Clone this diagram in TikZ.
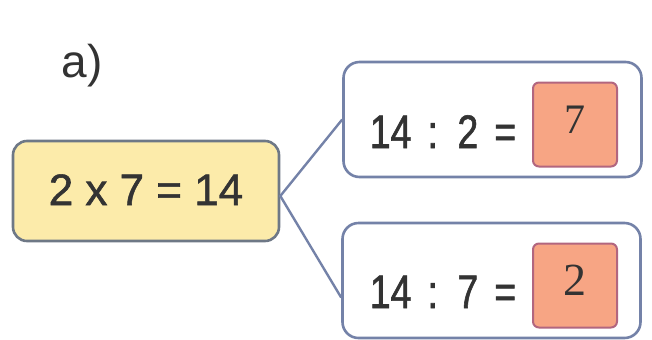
\documentclass[tikz,border=0pt]{standalone}
\usepackage{fontspec}
\setmainfont{Liberation Sans}
\newfontfamily\numfont{Liberation Serif}
\newfontfamily\eqfont{Liberation Sans}[FakeBold=1.2]
\newfontfamily\taskfont{Liberation Sans}[FakeBold=1.2, FakeStretch=0.8]
\usepackage{tikz}
\usetikzlibrary{positioning,calc}
\definecolor{boxline}{HTML}{7482A8}
\definecolor{eqfill}{HTML}{FCEBAA}
\definecolor{eqline}{HTML}{6E7886}
\definecolor{ansfill}{HTML}{F7A584}
\definecolor{ansline}{HTML}{B2667F}
\definecolor{ink}{HTML}{333333}

\begin{document}
\begin{tikzpicture}[x=1bp, y=-1bp,
  given/.style={draw=eqline, fill=eqfill, line width=2.6bp, rounded corners=14bp,
    minimum width=266bp, minimum height=100bp},
  task/.style={draw=boxline, fill=white, line width=2.6bp, rounded corners=16bp,
    minimum width=298bp, minimum height=115bp},
  answer/.style={draw=ansline, fill=ansfill, line width=2bp, rounded corners=6bp,
    minimum width=84bp, minimum height=84bp},
  link/.style={draw=boxline, line width=2.4bp},
  every node/.style={text=ink}
]
\useasboundingbox (0,0) rectangle (652,339);

\node[anchor=base west, font=\fontsize{46bp}{50bp}\selectfont] (lbl) at (58,77) {a)};

\node[given] (eq) at (146,191) {};
\node[anchor=base, font=\eqfont\fontsize{44bp}{50bp}\selectfont] (eqtxt) at (146,205) {2 x 7 = 14};

\node[task] (top) at (492.5,119.5) {};
\node[task] (bot) at (491.5,280.5) {};

\node[answer] (a1) at (575,124.5) {};
\node[answer] (a2) at (575,285.5) {};

\node[anchor=base, font=\taskfont\fontsize{47bp}{50bp}\selectfont] (q1) at (443,148)
  {\spaceskip=.34em 14 : 2 =};
\node[anchor=base, font=\taskfont\fontsize{47bp}{50bp}\selectfont] (q2) at (443,308)
  {\spaceskip=.34em 14 : 7 =};

\node[anchor=base, font=\numfont\fontsize{42bp}{46bp}\selectfont] (n1) at (575,133) {7};
\node[anchor=base, font=\numfont\fontsize{46bp}{50bp}\selectfont] (n2) at (575,295) {2};

\draw[link] (top.west) -- ([yshift=-5bp]eq.east) -- ([yshift=-17bp]bot.west);

\end{tikzpicture}
\end{document}
